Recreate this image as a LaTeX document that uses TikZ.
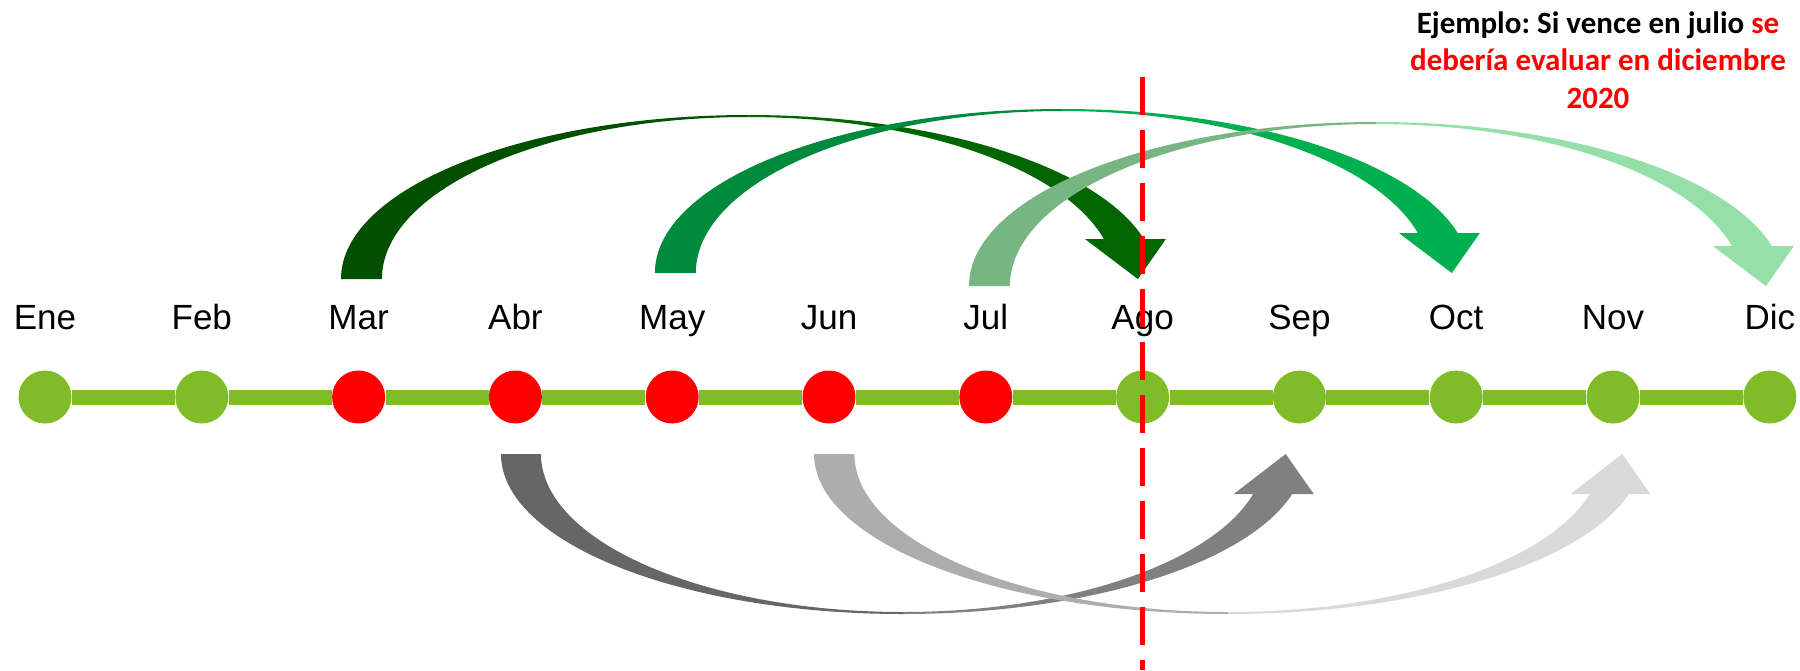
\documentclass[tikz,border=0pt]{standalone}
\usepackage{fontspec}
\setmainfont{Liberation Sans}
\newfontfamily\calibri{Carlito}
\usetikzlibrary{positioning}
\frenchspacing

\definecolor{lineGreen}{RGB}{128,188,40}
\definecolor{dotRed}{RGB}{255,0,0}
\definecolor{aDark}{RGB}{0,80,0}
\definecolor{aLight}{RGB}{0,102,0}
\definecolor{bDark}{RGB}{0,138,62}
\definecolor{bLight}{RGB}{0,176,80}
\definecolor{cDark}{RGB}{119,181,131}
\definecolor{cLight}{RGB}{149,224,168}
\definecolor{dDark}{RGB}{102,102,102}
\definecolor{dLight}{RGB}{128,128,128}
\definecolor{eDark}{RGB}{173,173,173}
\definecolor{eLight}{RGB}{217,217,217}

\tikzset{
  dot/.style={circle, minimum size=26.5pt, inner sep=0pt},
  mes/.style={font=\fontsize{17.5}{20}\selectfont, anchor=base, inner sep=0pt},
  timeline/.style={draw=lineGreen, line width=7.5pt},
  corte/.style={draw=dotRed, line width=2.5pt, dash pattern=on 19pt off 7.5pt},
  nota/.style={font=\calibri\bfseries\fontsize{15.5}{18.75}\selectfont, align=center, anchor=base, inner sep=0pt}
}

\begin{document}
\begin{tikzpicture}[x=0.5pt,y=-0.5pt]
  \useasboundingbox (0,0) rectangle (1800,670);

  % arrows above the line
  \foreach \cx/\cy/\dk/\lt in {748.6/279/aDark/aLight, 1062.5/273/bDark/bLight, 1376.6/286/cDark/cLight}{
    \fill[fill=\dk] (\cx-407.6,\cy) arc[start angle=180, end angle=270, x radius=407.6, y radius=164]
      -- (\cx,\cy-162) arc[start angle=270, end angle=180, x radius=366.7, y radius=162] -- cycle;
    \fill[fill=\lt] (\cx,\cy-164) arc[start angle=270, end angle=345.9, x radius=407.6, y radius=164]
      -- ++(22,0) -- ++(-28,40) -- ++(-52.9,-40) -- ++(18.9,0)
      arc[start angle=345.7, end angle=270, x radius=366.7, y radius=162] -- cycle;
  }

  % arrows below the line
  \foreach \cx/\ao/\ai/\dk/\lt in {903/402/362/dDark/dLight, 1228/414/373.6/eDark/eLight}{
    \fill[fill=\dk] (\cx-\ao,454) arc[start angle=180, end angle=90, x radius=\ao, y radius=160]
      -- (\cx,612) arc[start angle=90, end angle=180, x radius=\ai, y radius=158] -- cycle;
    \fill[fill=\lt] (\cx,614) arc[start angle=90, end angle=14.48, x radius=\ao, y radius=160]
      -- ++(21.5,0) -- ++(-28,-40) -- ++(-52,40) -- ++(19.5,0)
      arc[start angle=14.67, end angle=90, x radius=\ai, y radius=158] -- cycle;
  }

  \foreach \name/\m/\c [count=\i from 0] in {ene/Ene/lineGreen, feb/Feb/lineGreen, mar/Mar/dotRed,
      abr/Abr/dotRed, may/May/dotRed, jun/Jun/dotRed, jul/Jul/dotRed, ago/Ago/lineGreen,
      sep/Sep/lineGreen, oct/Oct/lineGreen, nov/Nov/lineGreen, dic/Dic/lineGreen}{
    \node[dot, fill=\c] (\name) at ({45+156.8*\i},397) {};
    \node[mes] (l\name) at ({45+156.8*\i},329) {\m};
  }
  \foreach \a/\b in {ene/feb, feb/mar, mar/abr, abr/may, may/jun, jun/jul, jul/ago, ago/sep, sep/oct, oct/nov, nov/dic}
    \draw[timeline] (\a) -- (\b);

  \coordinate (corteTop) at (1142.7,77);
  \coordinate (corteBot) at (1142.7,670);
  \draw[corte] (corteTop) -- (corteBot);

  % base anchor sits on the last line
  \node[nota] (ejemplo) at (1598,108) {Ejemplo: Si vence en julio \textcolor{dotRed}{se}\\
    \textcolor{dotRed}{debería evaluar en diciembre}\\ \textcolor{dotRed}{2020}};
\end{tikzpicture}
\end{document}
